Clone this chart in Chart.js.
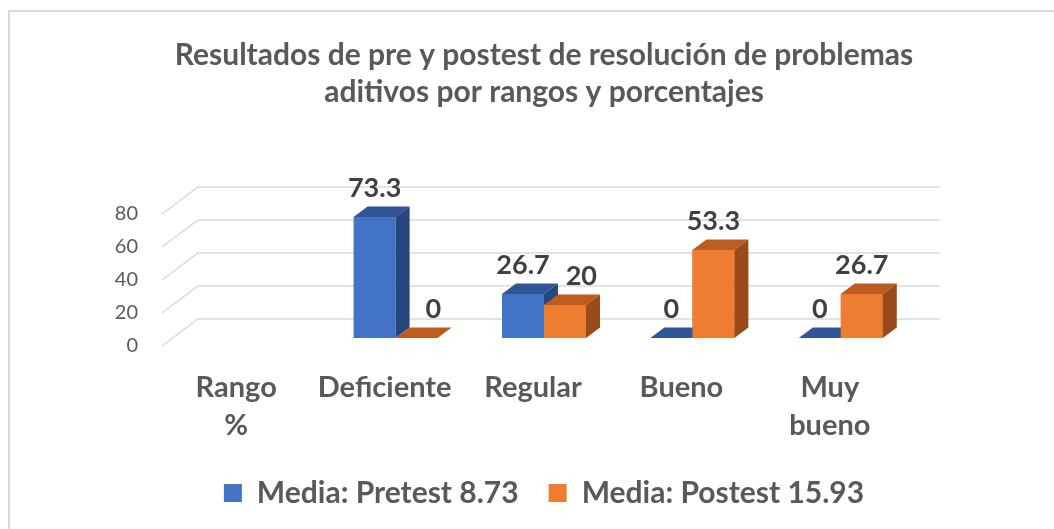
<!DOCTYPE html>
<html>
<head>
<meta charset="utf-8">
<script src="https://cdn.jsdelivr.net/npm/chart.js@4"></script>
<style>
  html, body { margin: 0; padding: 0; background: #fff; }
  #wrap { width: 1054px; height: 529px; }
</style>
</head>
<body>
<div id="wrap"><canvas id="chart" width="1054" height="529"></canvas></div>
<script>
// data
const categories = [['Rango', '%'], 'Deficiente', 'Regular', 'Bueno', ['Muy', 'bueno']];
const pretest = [null, 73.3, 26.7, 0, 0];
const postest = [null, 0, 20, 53.3, 26.7];
const seriesNames = ['Media: Pretest 8.73', 'Media: Postest 15.93'];
const yMax = 80;
const yStep = 20;

const FONT = 'Lato, "Open Sans", sans-serif';
const TEXT = '#595959';

// fake 3d: offsets of the front edge / back wall from the bar plane, and bar depth
const FRONT = [-11, 8];
const BACK = [25, -19];
const BAR = [14, -10.5];

const faces = [
    { top: '#2F5597', side: '#27467F' },
    { top: '#BE5B1E', side: '#9A4B1C' }
];

function poly(ctx, pts, color) {
    ctx.beginPath();
    ctx.moveTo(pts[0][0], pts[0][1]);
    for (let i = 1; i < pts.length; i++) ctx.lineTo(pts[i][0], pts[i][1]);
    ctx.closePath();
    ctx.fillStyle = color;
    ctx.fill();
}

function overlaps(a, b) {
    return a.l < b.r && a.r > b.l && a.t < b.b && a.b > b.t;
}

const frame = {
    id: 'frame',
    beforeDraw(chart) {
        const ctx = chart.ctx;
        ctx.save();
        ctx.fillStyle = '#fff';
        ctx.fillRect(0, 0, chart.width, chart.height);
        ctx.strokeStyle = '#D9D9D9';
        ctx.lineWidth = 2;
        ctx.beginPath();
        ctx.moveTo(9, chart.height);
        ctx.lineTo(9, 11);
        ctx.lineTo(chart.width, 11);
        ctx.stroke();
        ctx.restore();
    },
    beforeDatasetsDraw(chart) {
        const ctx = chart.ctx;
        const area = chart.chartArea;
        const y = chart.scales.y;
        ctx.save();
        ctx.strokeStyle = '#D9D9D9';
        ctx.lineWidth = 1.5;
        y.ticks.forEach(t => {
            const py = y.getPixelForValue(t.value);
            ctx.beginPath();
            ctx.moveTo(area.left + FRONT[0], py + FRONT[1]);
            ctx.lineTo(area.left + BACK[0], py + BACK[1]);
            ctx.lineTo(area.right + BACK[0], py + BACK[1]);
            ctx.stroke();
        });
        ctx.restore();
    },
    afterDatasetsDraw(chart) {
        const ctx = chart.ctx;
        const sets = chart.data.datasets;
        ctx.save();
        // per category, back to front: blue faces, then orange front redrawn over them, then orange faces
        categories.forEach((c, i) => {
            sets.forEach((ds, d) => {
                if (ds.data[i] == null) return;
                const bar = chart.getDatasetMeta(d).data[i];
                if (d > 0) bar.draw(ctx);
                const f = faces[d];
                const x0 = bar.x - bar.width / 2;
                const x1 = bar.x + bar.width / 2;
                const yt = bar.y, yb = bar.base;
                poly(ctx, [[x0, yt], [x1, yt], [x1 + BAR[0], yt + BAR[1]], [x0 + BAR[0], yt + BAR[1]]], f.top);
                if (yb - yt > 0.5) {
                    poly(ctx, [[x1, yt], [x1 + BAR[0], yt + BAR[1]], [x1 + BAR[0], yb + BAR[1]], [x1, yb]], f.side);
                }
            });
        });
        // value labels, the second series steps right when it would hit the first one
        ctx.font = 'bold 27px ' + FONT;
        ctx.fillStyle = '#404040';
        ctx.textAlign = 'center';
        ctx.textBaseline = 'middle';
        categories.forEach((c, i) => {
            const taken = [];
            sets.forEach((ds, d) => {
                if (ds.data[i] == null) return;
                const bar = chart.getDatasetMeta(d).data[i];
                const txt = String(ds.data[i]);
                const w = ctx.measureText(txt).width;
                let cx = bar.x;
                const cy = bar.y - 29;
                taken.forEach(o => {
                    const box = { l: cx - w / 2, r: cx + w / 2, t: cy - 6, b: cy + 6 };
                    if (overlaps(box, o)) cx = o.r + 16 + w / 2;
                });
                ctx.fillText(txt, cx, cy);
                taken.push({ l: bar.x - bar.width / 2, r: bar.x + bar.width / 2 + BAR[0], t: bar.y + BAR[1], b: bar.base });
                taken.push({ l: cx - w / 2, r: cx + w / 2, t: cy - 10, b: cy + 10 });
            });
        });
        ctx.restore();
    }
};

new Chart(document.getElementById('chart'), {
    type: 'bar',
    data: {
        labels: categories,
        datasets: [{
            label: seriesNames[0],
            data: pretest,
            backgroundColor: '#4472C4'
        }, {
            label: seriesNames[1],
            data: postest,
            backgroundColor: '#ED7D31'
        }]
    },
    options: {
        responsive: false,
        animation: false,
        events: [],
        categoryPercentage: 0.566,
        barPercentage: 1.0,
        layout: { padding: { top: 0, left: 0, right: 139, bottom: 11 } },
        plugins: {
            title: {
                display: true,
                fullSize: false,
                text: ['Resultados de pre y postest de resolución de problemas', 'aditivos por rangos y porcentajes'],
                color: TEXT,
                font: { family: FONT, size: 30, weight: 'bold', lineHeight: 1.233 },
                padding: { top: 37, bottom: 95 }
            },
            legend: {
                position: 'bottom',
                fullSize: false,
                labels: {
                    color: TEXT,
                    font: { family: FONT, size: 30, weight: 'bold' },
                    boxWidth: 18,
                    boxHeight: 18,
                    padding: 30
                }
            },
            tooltip: { enabled: false }
        },
        scales: {
            x: {
                grid: { display: false, drawTicks: false },
                border: { display: false },
                ticks: {
                    color: TEXT,
                    font: { family: FONT, size: 29, weight: 'bold', lineHeight: 1.33 },
                    labelOffset: FRONT[0],
                    padding: 30,
                    maxRotation: 0,
                    minRotation: 0,
                    autoSkip: false
                },
                afterFit(scale) { scale.height = 110; }
            },
            y: {
                min: 0,
                max: yMax,
                grid: { display: false, drawTicks: false },
                border: { display: false },
                ticks: {
                    stepSize: yStep,
                    color: TEXT,
                    font: { family: FONT, size: 20 },
                    labelOffset: FRONT[1],
                    padding: 35
                },
                afterFit(scale) { scale.width = 173; }
            }
        }
    },
    plugins: [frame]
});
</script>
</body>
</html>
